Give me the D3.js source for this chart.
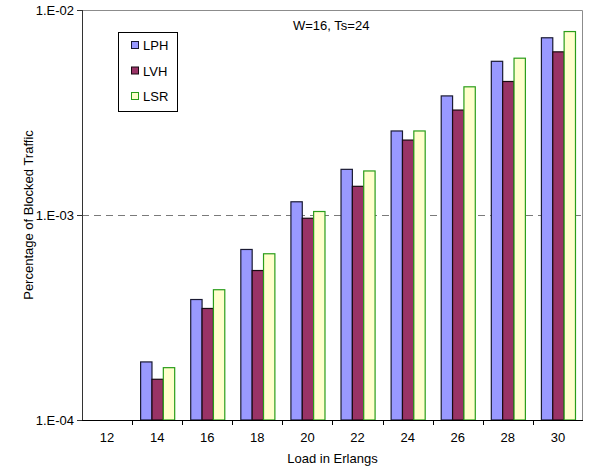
<!DOCTYPE html>
<html>
<head>
<meta charset="utf-8">
<script src="https://cdn.jsdelivr.net/npm/d3@7"></script>
<style>
  body { margin: 0; background: #fff; }
  svg text { font-family: "Liberation Sans", Arial, sans-serif; fill: #000; }
</style>
</head>
<body>
<svg class="chart" width="590" height="467"></svg>
<script>
// load values (Erlangs)
const categories = [12, 14, 16, 18, 20, 22, 24, 26, 28, 30];
const seriesNames = ['LPH', 'LVH', 'LSR'];

// blocked traffic per series, null = no bar
const lph = [null, 1.92e-4, 3.87e-4, 6.79e-4, 1.16e-3, 1.67e-3, 2.57e-3, 3.81e-3, 5.62e-3, 7.32e-3];
const lvh = [null, 1.58e-4, 3.50e-4, 5.36e-4, 9.64e-4, 1.38e-3, 2.32e-3, 3.25e-3, 4.48e-3, 6.25e-3];
const lsr = [null, 1.80e-4, 4.32e-4, 6.47e-4, 1.04e-3, 1.64e-3, 2.57e-3, 4.22e-3, 5.82e-3, 7.85e-3];

const yTicks = [1e-4, 1e-3, 1e-2];
const yTickLabels = ['1.E-04', '1.E-03', '1.E-02'];

const seriesValues = [lph, lvh, lsr];
const fills = ['#9999ff', '#993366', '#ffffcc'];
const strokes = ['#1a1a33', '#1a0a12', '#2a9d1a'];

const margin = { top: 10, right: 7, bottom: 47, left: 82 };
const svg = d3.select('.chart');
const width = svg.attr('width') - margin.left - margin.right;
const height = svg.attr('height') - margin.top - margin.bottom;
const fontSize = '13px';

// scales
const x0 = d3.scaleBand()
    .domain(categories)
    .range([0, width])
    .paddingInner(0.32)
    .paddingOuter(0.16);

const x1 = d3.scaleBand()
    .domain(seriesNames)
    .range([0, x0.bandwidth()]);

const y = d3.scaleLog()
    .domain([1e-4, 1e-2])
    .range([height, 0]);

const g = svg.append('g')
    .attr('transform', 'translate(' + margin.left + ',' + margin.top + ')');

// gray frame on top and right
g.append('path')
    .attr('d', 'M0,0.5H' + (width - 0.5) + 'V' + height)
    .attr('fill', 'none')
    .attr('stroke', '#8c8c8c')
    .attr('stroke-width', 1);

// dashed line at 1.E-03
g.append('line')
    .attr('x1', 0).attr('x2', width)
    .attr('y1', Math.round(y(1e-3)) + 0.5).attr('y2', Math.round(y(1e-3)) + 0.5)
    .attr('stroke', '#7a7a7a')
    .attr('stroke-dasharray', '7,5');

// bars
const rows = categories.map((c, i) => ({ cat: c, vals: seriesNames.map((s, k) => ({ s: s, k: k, v: seriesValues[k][i] })) }));

g.selectAll('.grp')
    .data(rows)
    .enter().append('g')
    .attr('class', 'grp')
    .attr('transform', d => 'translate(' + x0(d.cat) + ',0)')
    .selectAll('rect')
    .data(d => d.vals.filter(e => e.v != null))
    .enter().append('rect')
    .attr('x', d => x1(d.s) + 0.5)
    .attr('y', d => y(d.v))
    .attr('width', x1.bandwidth())
    .attr('height', d => height - y(d.v))
    .attr('fill', d => fills[d.k])
    .attr('stroke', d => strokes[d.k])
    .attr('stroke-width', 1.2);

// x axis, ticks sit between categories
const gap = (x0.step() - x0.bandwidth()) / 2;
g.append('line')
    .attr('x1', 0).attr('x2', width)
    .attr('y1', height + 0.5).attr('y2', height + 0.5)
    .attr('stroke', '#000');
g.selectAll('.xtick')
    .data(categories.slice(1))
    .enter().append('line')
    .attr('class', 'xtick')
    .attr('x1', d => Math.round(x0(d) - gap) + 0.5)
    .attr('x2', d => Math.round(x0(d) - gap) + 0.5)
    .attr('y1', height)
    .attr('y2', height + 5)
    .attr('stroke', '#000');
g.selectAll('.xlab')
    .data(categories)
    .enter().append('text')
    .attr('class', 'xlab')
    .attr('x', d => x0(d) + x0.bandwidth() / 2)
    .attr('y', height + 22)
    .attr('text-anchor', 'middle')
    .style('font-size', fontSize)
    .text(d => d);

// y axis
const yAxis = g.append('g')
    .call(d3.axisLeft(y).tickValues(yTicks).tickFormat((d, i) => yTickLabels[i]).tickSize(5).tickPadding(3));
yAxis.select('.domain').attr('stroke', '#333').attr('d', 'M0.5,0V' + height);
yAxis.selectAll('.tick line').attr('stroke', '#333');
yAxis.selectAll('text')
    .style('font-size', fontSize)
    .style('font-family', '"Liberation Sans", Arial, sans-serif')
    .attr('fill', '#000');

// axis titles
svg.append('text')
    .attr('transform', 'translate(33,' + (margin.top + height / 2) + ') rotate(-90)')
    .attr('text-anchor', 'middle')
    .style('font-size', fontSize)
    .text('Percentage of Blocked Traffic');

svg.append('text')
    .attr('x', margin.left + width / 2)
    .attr('y', 463)
    .attr('text-anchor', 'middle')
    .style('font-size', fontSize)
    .text('Load in Erlangs');

svg.append('text')
    .attr('x', 293)
    .attr('y', 30)
    .style('font-size', fontSize)
    .text('W=16, Ts=24');

// legend
const legend = svg.append('g').attr('transform', 'translate(118.5,32.5)');
legend.append('rect')
    .attr('width', 59).attr('height', 79)
    .attr('fill', '#fff')
    .attr('stroke', '#000');
seriesNames.forEach((s, k) => {
    legend.append('rect')
        .attr('x', 13).attr('y', 9 + k * 25.5)
        .attr('width', 7).attr('height', 7)
        .attr('fill', fills[k])
        .attr('stroke', strokes[k]);
    legend.append('text')
        .attr('x', 24.5).attr('y', 17.5 + k * 25.5)
        .style('font-size', fontSize)
        .text(s);
});
</script>
</body>
</html>
